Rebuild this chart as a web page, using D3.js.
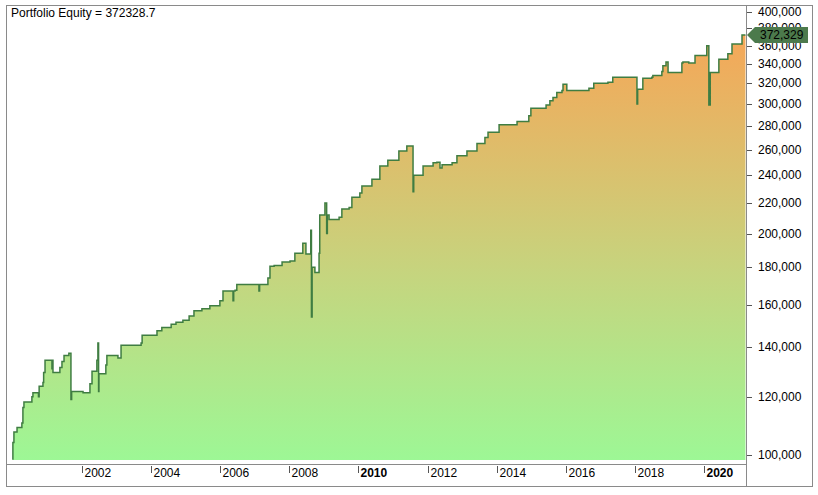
<!DOCTYPE html>
<html lang="en">
<head>
<meta charset="UTF-8">
<title>Portfolio Equity</title>
<script src="https://cdnjs.cloudflare.com/ajax/libs/d3/7.8.5/d3.min.js"></script>
<style>
  body { margin: 0; background: #fff; }
  text { font-family: "Liberation Sans", Arial, sans-serif; font-size: 12px; fill: #000; }
</style>
</head>
<body>
<div id="wrapper"></div>
<script>
// equity steps: [decimal year, value in thousands]
const equity = [
  [2000.0,104],[2000.03,107.5],[2000.12,109],[2000.26,110.5],[2000.29,116],[2000.32,118],[2000.55,120],[2000.58,121.5],
  [2000.74,120],[2000.76,124],[2000.87,125.5],[2000.89,129.5],[2000.93,134.5],[2001.13,131],[2001.14,134.5],[2001.16,129.5],
  [2001.36,131.5],[2001.42,134],[2001.48,136.5],[2001.62,137.5],[2001.68,119],[2001.70,122],[2002.03,121.5],[2002.23,125],
  [2002.29,130],[2002.43,134.5],[2002.46,142],[2002.48,122],[2002.49,129],[2002.69,132.5],[2002.72,136.5],[2003.04,135.5],
  [2003.13,141],[2003.71,142],[2003.74,145.5],[2004.17,147.5],[2004.31,149],[2004.58,150.5],[2004.72,151.5],[2004.92,152.5],
  [2005.10,154.5],[2005.24,157],[2005.47,158],[2005.70,159.5],[2005.99,162],[2006.08,167],[2006.37,162],[2006.39,167],
  [2006.43,167.5],[2006.48,170.5],[2007.12,167],[2007.14,170.5],[2007.38,174],[2007.44,180.5],[2007.56,181],[2007.79,183],
  [2008.02,183.5],[2008.16,188],[2008.39,194],[2008.48,187.5],[2008.62,202],[2008.64,154],[2008.66,180],[2008.74,177],
  [2008.86,188],[2008.88,212],[2009.03,220],[2009.08,200],[2009.10,212],[2009.15,209],[2009.44,210.5],[2009.52,216],
  [2009.73,217],[2009.81,224],[2010.04,227],[2010.10,232],[2010.39,237],[2010.62,247],[2010.85,251.5],[2011.17,259],
  [2011.40,263],[2011.58,228],[2011.60,240],[2011.87,247],[2012.16,249.5],[2012.27,250],[2012.36,245.5],[2012.42,248],
  [2012.71,249.5],[2012.85,255],[2013.14,259],[2013.43,265],[2013.66,270],[2013.75,274.5],[2014.07,281],[2014.59,284],
  [2014.93,289],[2014.99,296],[2015.43,299],[2015.54,303],[2015.63,306],[2015.74,311],[2015.89,313],[2015.92,319],
  [2016.03,313],[2016.67,315],[2016.81,320],[2017.22,321],[2017.36,326],[2018.06,300],[2018.08,314],[2018.23,325],
  [2018.49,326],[2018.52,328],[2018.78,332],[2018.81,338],[2018.90,342],[2018.96,331],[2019.36,341],[2019.39,342],
  [2019.56,341],[2019.74,349],[2020.08,360],[2020.14,299],[2020.18,331],[2020.43,345],[2020.69,351],[2020.81,362],
  [2021.10,372.3],[2021.20,372.3]
];
const yTicks = [100,120,140,160,180,200,220,240,260,280,300,320,340,360,380,400];
const yearTicks = [2002,2004,2006,2008,2010,2012,2014,2016,2018,2020];
const boldYears = [2010, 2020];
const lastValue = 372328.7;
const title = "Portfolio Equity = " + lastValue;

const W = 818, H = 495;
const plot = { left: 8, right: 746, top: 8, bottom: 463 };

const svg = d3.select("#wrapper").append("svg").attr("width", W).attr("height", H);

const x = d3.scaleLinear().domain([2002, 2020]).range([82, 704]);
const y = d3.scaleLog().domain([100, 400]).range([455, 12]);

const grad = svg.append("defs").append("linearGradient")
  .attr("id", "eq").attr("gradientUnits", "userSpaceOnUse")
  .attr("x1", 0).attr("x2", 0).attr("y1", y(97)).attr("y2", y(372));
grad.append("stop").attr("offset", "0%").attr("stop-color", "#9cf896");
grad.append("stop").attr("offset", "45%").attr("stop-color", "#c6d47e");
grad.append("stop").attr("offset", "100%").attr("stop-color", "#f5a758");

// frames
svg.append("rect").attr("x", 6.5).attr("y", 5.5).attr("width", 806).attr("height", 481)
  .attr("fill", "none").attr("stroke", "#8a8a8a");
svg.append("line").attr("x1", 746.5).attr("x2", 746.5).attr("y1", 5.5).attr("y2", 486.5).attr("stroke", "#8a8a8a");
svg.append("line").attr("x1", 6.5).attr("x2", 746.5).attr("y1", 464.5).attr("y2", 464.5).attr("stroke", "#8a8a8a");

const area = d3.area().curve(d3.curveStepAfter)
  .x(d => x(d[0])).y0(plot.bottom - 3).y1(d => y(d[1]));
const line = d3.line().curve(d3.curveStepAfter)
  .x(d => x(d[0])).y(d => y(d[1]));

svg.append("path").datum(equity).attr("d", area).attr("fill", "url(#eq)");
svg.append("path").datum([[equity[0][0], 98.5]].concat(equity)).attr("d", line)
  .attr("fill", "none").attr("stroke", "#3f7d42").attr("stroke-width", 1.5);

// right axis
const ya = svg.append("g");
yTicks.forEach(t => {
  ya.append("line").attr("x1", 747).attr("x2", 752).attr("y1", Math.round(y(t)) + 0.5).attr("y2", Math.round(y(t)) + 0.5)
    .attr("stroke", "#555");
  ya.append("text").attr("x", 758).attr("y", y(t) + 4).text(d3.format(",")(t * 1000));
});

// last value marker
const ly = y(lastValue / 1000);
svg.append("path")
  .attr("d", `M747,${ly} L755,${ly - 8} L808,${ly - 8} L808,${ly + 8} L755,${ly + 8} Z`)
  .attr("fill", "#4c7a4c");
svg.append("text").attr("x", 760).attr("y", ly + 4.5).text(d3.format(",.0f")(lastValue));

// bottom axis
yearTicks.forEach(t => {
  const px = Math.round(x(t)) + 0.5;
  svg.append("line").attr("x1", px).attr("x2", px).attr("y1", 466).attr("y2", 473).attr("stroke", "#555");
  svg.append("text").attr("x", px + 2).attr("y", 477)
    .style("font-weight", boldYears.includes(t) ? "bold" : "normal").text(t);
});

svg.append("text").attr("x", 11).attr("y", 17).text(title);
</script>
</body>
</html>
